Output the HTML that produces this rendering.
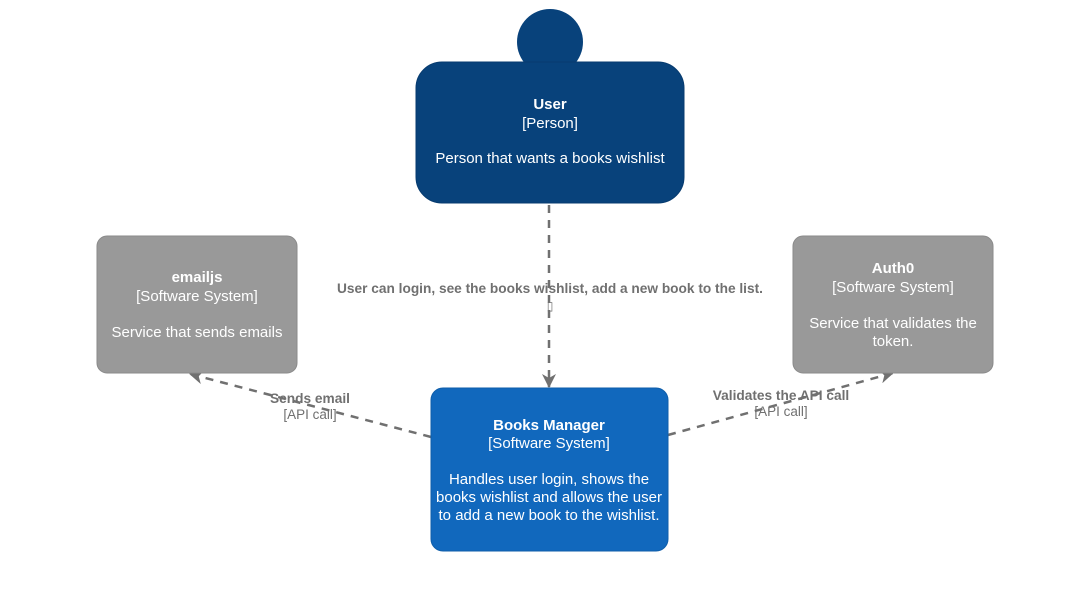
<!DOCTYPE html>
<html><head><meta charset="utf-8"><style>
html,body{margin:0;padding:0;background:#fff;}
svg{display:block;font-family:"Liberation Sans",Arial,sans-serif;}
</style></head><body>
<svg width="1086" height="590" viewBox="0 0 1086 590" xmlns="http://www.w3.org/2000/svg">
<defs>
<marker id="a" markerWidth="16" markerHeight="16" refX="13" refY="7" orient="auto" markerUnits="userSpaceOnUse">
<path d="M0,0 L14,7 L0,14 L4,7 Z" fill="#707070"/>
</marker>
</defs>
<g stroke="#707070" stroke-width="2.5" stroke-dasharray="8,7" fill="none">
<line x1="549" y1="205" x2="549" y2="387" marker-end="url(#a)"/>
<line x1="431" y1="437" x2="190" y2="374" marker-end="url(#a)"/>
<line x1="668" y1="435" x2="893" y2="373" marker-end="url(#a)"/>
</g>
<circle cx="550" cy="42" r="33" fill="#08427b"/>
<rect x="416" y="62" width="268" height="141" rx="26" fill="#08427b" stroke="#073b6f"/>
<g fill="#fff" font-size="15" text-anchor="middle">
<text x="550" y="109" font-weight="bold">User</text>
<text x="550" y="128">[Person]</text>
<text x="550" y="163">Person that wants a books wishlist</text>
</g>
<rect x="97" y="236" width="200" height="137" rx="10" fill="#999999" stroke="#8a8a8a"/>
<g fill="#fff" font-size="15" text-anchor="middle">
<text x="197" y="282" font-weight="bold">emailjs</text>
<text x="197" y="301">[Software System]</text>
<text x="197" y="337">Service that sends emails</text>
</g>
<rect x="793" y="236" width="200" height="137" rx="10" fill="#999999" stroke="#8a8a8a"/>
<g fill="#fff" font-size="15" text-anchor="middle">
<text x="893" y="273" font-weight="bold">Auth0</text>
<text x="893" y="292">[Software System]</text>
<text x="893" y="328">Service that validates the</text>
<text x="893" y="346">token.</text>
</g>
<rect x="431" y="388" width="237" height="163" rx="12" fill="#1168bd" stroke="#0f5eaa"/>
<g fill="#fff" font-size="15" text-anchor="middle">
<text x="549" y="430" font-weight="bold">Books Manager</text>
<text x="549" y="448">[Software System]</text>
<text x="549" y="484">Handles user login, shows the</text>
<text x="549" y="502">books wishlist and allows the user</text>
<text x="549" y="520">to add a new book to the wishlist.</text>
</g>
<g fill="#707070" font-size="13.7" text-anchor="middle">
<text x="550" y="293" font-weight="bold">User can login, see the books wishlist, add a new book to the list.</text>
<text x="550" y="310" font-size="12">▯</text>
<text x="310" y="403" font-weight="bold">Sends email</text>
<text x="310" y="419" font-size="13.5">[API call]</text>
<text x="781" y="400" font-weight="bold">Validates the API call</text>
<text x="781" y="416" font-size="13.5">[API call]</text>
</g>
</svg>
</body></html>
